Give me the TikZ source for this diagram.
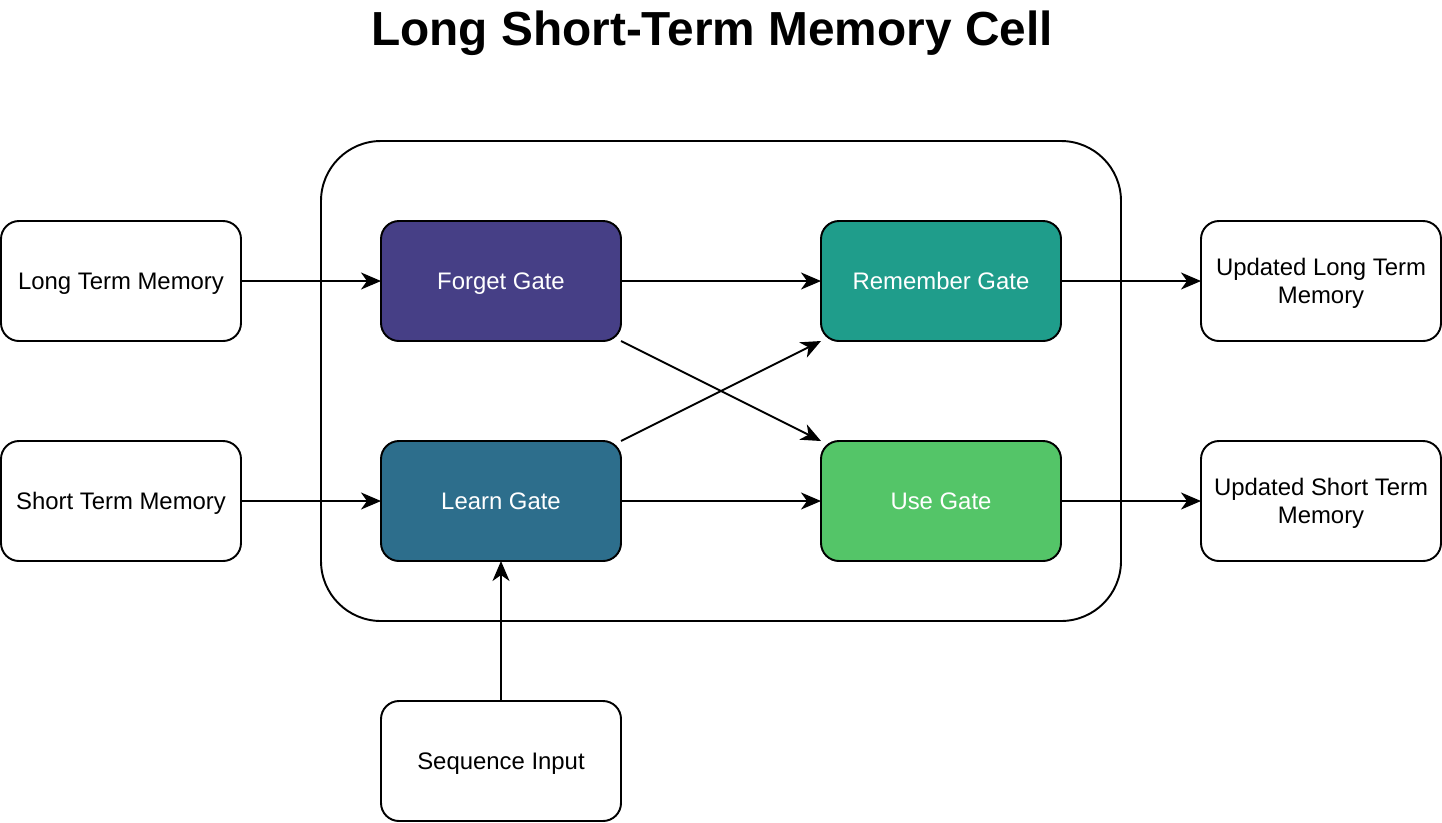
\documentclass[tikz,border=0pt]{standalone}
\usepackage{fontspec}
\setmainfont{Liberation Sans}
\usetikzlibrary{positioning, calc, arrows.meta}

\definecolor{forgetcol}{HTML}{463F86}
\definecolor{learncol}{HTML}{2D6E8C}
\definecolor{remembercol}{HTML}{1F9D8B}
\definecolor{usecol}{HTML}{54C568}

\begin{document}
\begin{tikzpicture}[>={Stealth[length=4mm,width=3.4mm,inset=1.2mm]}, line width=1.1pt,
  box/.style={draw, rectangle, rounded corners=0.36cm, minimum width=4.8cm,
    minimum height=2.4cm, outer sep=0pt, align=center,
    text height=0.97em, text depth=0pt, font=\fontsize{13.6}{15.9}\selectfont},
  twolines/.style={text height=0.97em+15.9pt},
  gate/.style={box, text=white}]
\useasboundingbox (0,0) rectangle (28.84,-16.44);

\node[font=\fontsize{27.2}{32}\selectfont\bfseries, anchor=base] (title) at (14.24,-0.9) {Long Short-Term Memory Cell};

% inputs
\node[box] (ltm) at (2.42,-5.62) {Long Term Memory};
\node[box, below=2cm of ltm] (stm) {Short Term Memory};

% gates
\node[gate, fill=forgetcol, right=2.8cm of ltm] (forget) {Forget Gate};
\node[gate, fill=learncol, right=2.8cm of stm] (learn) {Learn Gate};
\node[gate, fill=remembercol, right=4cm of forget] (remember) {Remember Gate};
\node[gate, fill=usecol, right=4cm of learn] (use) {Use Gate};
\node[box, below=2.8cm of learn] (seq) {Sequence Input};

% outputs
\node[box, twolines, right=2.8cm of remember] (ultm) {Updated Long Term\\Memory};
\node[box, twolines, right=2.8cm of use] (ustm) {Updated Short Term\\Memory};

% cell
\draw[rounded corners=1.2cm] ($(forget.north west)+(-1.2,1.6)$) rectangle ($(use.south east)+(1.2,-1.2)$);

\draw[->] (ltm) -- (forget);
\draw[->] (stm) -- (learn);
\draw[->] (forget) -- (remember);
\draw[->] (learn) -- (use);
\draw[->] (forget.south east) -- (use.north west);
\draw[->] (learn.north east) -- (remember.south west);
\draw[->] (remember) -- (ultm);
\draw[->] (use) -- (ustm);
\draw[->] (seq) -- (learn);
\end{tikzpicture}
\end{document}
